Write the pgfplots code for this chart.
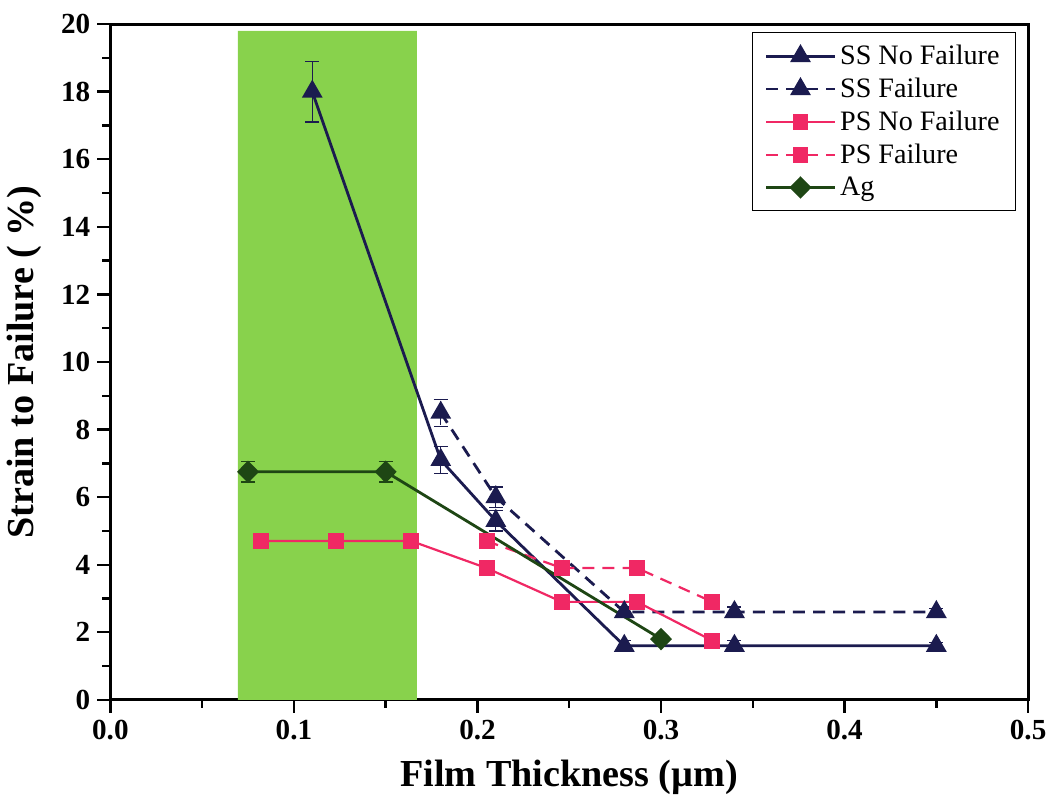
\documentclass[border=0pt]{standalone}
\usepackage{pgfplots}
\pgfplotsset{compat=1.18}
\usepackage{fontspec}
\setmainfont{Liberation Serif}
\definecolor{navy}{HTML}{1B1B4F}
\definecolor{pinkr}{HTML}{F02864}
\definecolor{agg}{HTML}{1E4614}
\definecolor{band}{HTML}{88D24C}
\begin{document}
\begin{tikzpicture}
\begin{axis}[
  scale only axis, width=457pt, height=336.5pt,
  xmin=0, xmax=0.5, ymin=0, ymax=20,
  xtick={0,0.1,0.2,0.3,0.4,0.5},
  minor xtick={0.05,0.15,0.25,0.35,0.45},
  ytick={0,2,...,20},
  minor ytick={1,3,...,19},
  tick align=outside, xtick pos=bottom, ytick pos=left,
  major tick length=6.5pt, minor tick length=4pt,
  tick style={black, line width=1.2pt},
  axis line style={line width=1.5pt},
  /pgf/number format/assume math mode=true,
  xticklabel style={/pgf/number format/.cd, fixed, fixed zerofill, precision=1},
  ticklabel style={font=\fontsize{14.5}{16}\selectfont\bfseries},
  xlabel={Film Thickness (µm)},
  ylabel={Strain to Failure ( \%)},
  label style={font=\fontsize{19}{22}\selectfont\bfseries},
  xlabel style={yshift=-3pt},
  ylabel style={yshift=3pt},
  legend style={at={(0.987,0.988)}, anchor=north east, draw=black, line width=0.6pt,
    font=\fontsize{14}{15}\selectfont, row sep=1.2pt, inner xsep=6pt, inner ysep=4pt,
    cells={anchor=west}},
  legend image code/.code={\draw[mark repeat=2,mark phase=2] plot coordinates {(0cm,0cm) (0.6cm,0cm) (1.2cm,0cm)};},
  error bars/error bar style={line width=0.6pt},
  error bars/error mark options={rotate=90, mark size=3.5pt, line width=0.6pt},
]
\addplot[fill=band, draw=none, forget plot] coordinates {(0.0695,0) (0.167,0) (0.167,19.8) (0.0695,19.8)} \closedcycle;

\addplot[navy, line width=1.4pt, mark=triangle*, mark size=4.6pt, mark options={solid},
  error bars/.cd, y dir=both, y explicit] coordinates {
  (0.11,18) +- (0,0.9)
  (0.18,7.1) +- (0,0.4)
  (0.21,5.3) +- (0,0.3)
  (0.28,1.6) +- (0,0.15)
  (0.34,1.6) +- (0,0.15)
  (0.45,1.6) +- (0,0.1)
};
\addlegendentry{SS No Failure}

\addplot[navy, line width=1.4pt, dash pattern=on 6pt off 4pt, mark=triangle*, mark size=4.6pt, mark options={solid},
  error bars/.cd, y dir=both, y explicit] coordinates {
  (0.18,8.5) +- (0,0.4)
  (0.21,6.0) +- (0,0.3)
  (0.28,2.6) +- (0,0.15)
  (0.34,2.6) +- (0,0.15)
  (0.45,2.6) +- (0,0.1)
};
\addlegendentry{SS Failure}

\addplot[pinkr, line width=1.1pt, mark=square*, mark size=3.4pt, mark options={solid},
  error bars/.cd, y dir=both, y explicit] coordinates {
  (0.082,4.7) +- (0,0.15)
  (0.123,4.7) +- (0,0.15)
  (0.164,4.7) +- (0,0.15)
  (0.205,3.9) +- (0,0.1)
  (0.246,2.9) +- (0,0.1)
  (0.287,2.9) +- (0,0.1)
  (0.328,1.75) +- (0,0.1)
};
\addlegendentry{PS No Failure}

\addplot[pinkr, line width=1.1pt, dash pattern=on 6pt off 4pt, mark=square*, mark size=3.4pt, mark options={solid},
  error bars/.cd, y dir=both, y explicit] coordinates {
  (0.205,4.7) +- (0,0.2)
  (0.246,3.9) +- (0,0.1)
  (0.287,3.9) +- (0,0.1)
  (0.328,2.9) +- (0,0.1)
};
\addlegendentry{PS Failure}

\addplot[agg, line width=1.4pt, mark=diamond*, mark size=4.6pt, mark options={solid, xscale=1.3},
  error bars/.cd, y dir=both, y explicit] coordinates {
  (0.075,6.75) +- (0,0.3)
  (0.15,6.75) +- (0,0.3)
  (0.30,1.8) +- (0,0.1)
};
\addlegendentry{Ag}
\end{axis}
\path ([yshift=12pt]current axis.north) ++(0,0);
\end{tikzpicture}
\end{document}
